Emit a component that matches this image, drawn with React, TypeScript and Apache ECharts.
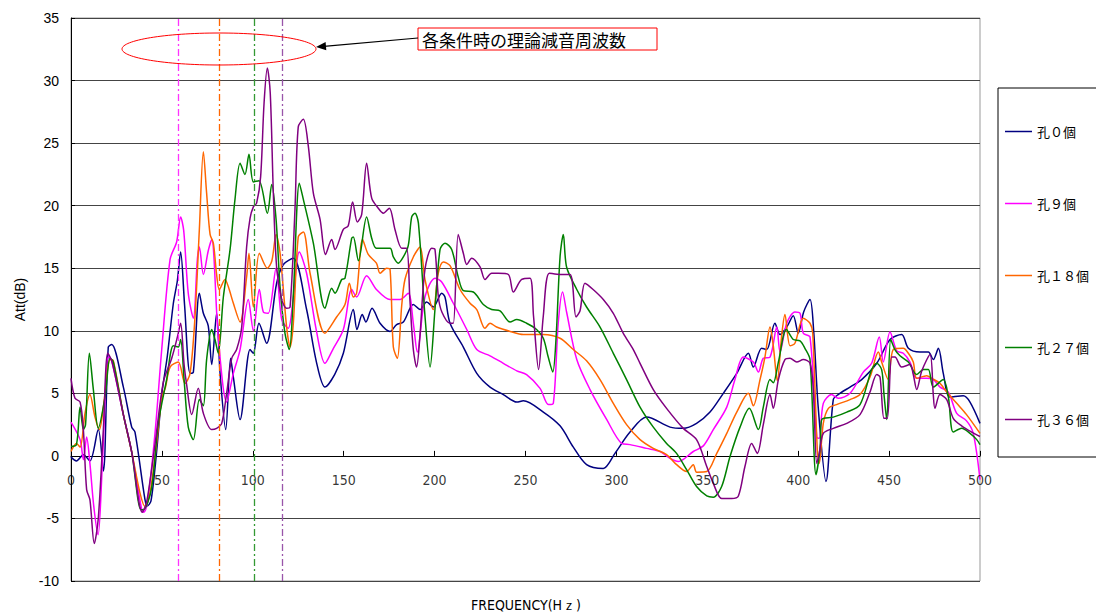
import React, { useEffect, useRef } from "react";
import * as echarts from "echarts";

// [frequency Hz, attenuation dB]
const hole0: number[][] = [[0,-0.1],[3,-0.4],[6.8,0.1],[10.4,-0.4],[15,2.1],[17.8,-1.2],[20.5,8.7],[22.4,8.9],[28.8,5.5],[33.4,2.3],[35.2,1.9],[40.7,-3.5],[42,-4.0],[44,-3.6],[47,0.2],[50,5],[53,8],[56.3,12.2],[58.5,14],[60.3,16.3],[62.5,12],[65.5,6.6],[67.3,6.7],[70.6,13.0],[72.8,11.4],[75.5,10.4],[77.4,7.3],[80.1,11.4],[82,6.6],[85.1,2.1],[87.8,7.8],[89.3,6.3],[93,2.9],[98.5,8.5],[100.3,8.2],[103.4,10.6],[107.6,9.0],[113.1,13.8],[116.8,15.3],[122.3,15.8],[129.6,11.7],[135,7.5],[139.7,5.5],[145,6.5],[149.8,8.2],[155.3,11.7],[157.3,10.1],[160.2,11.3],[162.2,10.7],[165.6,11.8],[170,10.6],[175.5,9.95],[179.1,10.5],[182.8,10.7],[188.3,12.1],[192,11.7],[195.6,12.3],[199.3,11.9],[203.9,13.0],[205.7,12.7],[208.5,10.6],[215.8,8.7],[223.2,6.6],[230.5,5.5],[237.8,4.9],[245.2,4.3],[248.8,4.4],[259.8,3.5],[269,2.4],[276.3,0.7],[283.6,-0.7],[292.8,-1.0],[299.2,0.2],[307.5,1.9],[316.6,3.1],[329.5,2.3],[336.8,2.2],[344.1,2.6],[351.5,3.5],[358.8,5.0],[366.2,6.6],[372.6,8.2],[375.3,7.1],[379.9,8.6],[382.7,8.5],[387.2,10.6],[390,9.7],[393.7,10.3],[397.3,11.2],[400,9.8],[403,11.5],[406.5,12.5],[408.5,10],[411,3.9],[415.3,-2.05],[419.3,4.5],[422,4.9],[428.5,5.5],[434.9,6.1],[443.2,7.4],[450.5,9.3],[456.9,9.7],[460.6,8.6],[467,8.3],[471.6,8.3],[474.3,7.7],[477.1,8.6],[479.8,6.6],[483.5,4.7],[490.8,4.8],[494.5,4.3],[500,2.6]];

const hole9: number[][] = [[0,2.7],[5,1.3],[6.8,-0.3],[8.6,1.5],[10.4,-0.6],[12.5,-4],[14.9,-6.3],[17.2,-0.8],[20.5,7.9],[22.4,7.6],[28.8,3.3],[33.4,0.3],[38.9,-4.3],[40,-4.5],[42,-3.8],[46.2,1.8],[49.9,8.5],[54.5,15.7],[58.1,17.1],[60.3,19.1],[62,18],[64.5,13.0],[67.3,11.0],[69.5,15.7],[70.6,16.7],[72.8,14.5],[75.5,16.4],[77.4,17.3],[81,9.5],[85.6,4.3],[89.3,6.6],[93,8.5],[97.5,12.5],[100.3,10.0],[103.6,13.3],[105.8,11.5],[108.5,11.4],[112.8,15.0],[115.9,10.9],[119.5,10.2],[122,12.3],[125.6,16.3],[129.6,14.6],[135,10],[139.7,7.4],[144,8.5],[149.8,10.1],[154.4,13.3],[157.1,12.7],[162.6,14.4],[168,13.3],[175.5,12.5],[181,12.5],[185.5,13.0],[188.3,10.6],[190.5,8.3],[194.7,12.7],[200.2,14.2],[203.9,13.9],[210.3,12.2],[217.7,10.1],[223.2,8.5],[230.5,8.0],[237.8,7.4],[245.2,6.8],[250.6,6.5],[258,5.4],[262.6,4.1],[265.3,4.2],[268,10.6],[270.4,13.1],[272.6,11.5],[278.2,7.7],[285.5,5.3],[294.7,2.9],[302.9,1.0],[307.5,0.9],[316.6,0.6],[324,0.35],[329.5,-0.2],[334.1,-0.45],[342.3,0.35],[347.8,0.8],[353.3,2.1],[360.7,3.9],[365.2,6.1],[369.8,7.9],[375.3,7.5],[378.1,6.7],[380.8,7.8],[384.5,7.9],[388.2,10.3],[390,8.3],[393.7,10.6],[398.2,11.5],[401,11.4],[402.8,9.8],[406.5,9.5],[410.2,1.5],[411.6,1.4],[413.8,4.2],[418.4,4.9],[422,4.6],[428.5,5.0],[435.8,6.7],[440.4,7.4],[444.6,9.5],[446.8,7.5],[450.5,9.9],[454.2,8.4],[457.8,8.2],[461.5,7.5],[465.2,6.2],[470.7,6.2],[474.3,6.1],[478,5.5],[482.6,5.1],[487.2,3.4],[492.6,2.8],[496.3,1.8],[500,-1.9]];

const hole18: number[][] = [[0,0.35],[3,1.0],[5,0.7],[7.7,3.4],[10.4,4.9],[13.2,3.1],[15.6,2.1],[17.8,3.9],[21.5,7.7],[23.3,7.6],[28.8,3.3],[33.4,0.3],[38,-3],[40.7,-4.05],[43.4,-3.0],[47.1,1.0],[49.9,4.6],[52,5.5],[54.5,7.1],[59,7.5],[62.7,5.8],[65.5,6.6],[68.2,11.1],[70.6,18.1],[72.8,24.3],[74.6,21.0],[76.5,17.7],[78.3,17.0],[80.1,14.5],[81.6,13.3],[84.7,14.1],[86.6,13.5],[89.3,12.2],[93,10.7],[96.6,14.3],[97.9,16.2],[100.3,11.9],[103.6,16.2],[108,15.0],[110.5,15.6],[112.8,17.7],[115,16.2],[118.6,10.3],[120.5,8.7],[122.3,10.6],[125,17.5],[127.8,17.9],[131.5,14.6],[139.7,9.8],[146.1,11.1],[150.7,12.1],[153.1,13.8],[155.3,12.7],[157.1,13.0],[160.4,17.3],[163.5,16.1],[168,15.4],[170,14.6],[173.6,15.0],[175.5,14.9],[177.3,8.7],[179.5,7.8],[181.9,12],[183.7,14.1],[188.3,15.9],[192,16.7],[194.7,14.1],[199.3,11.7],[202,14.6],[204.8,15.5],[208.5,15.2],[214,13.3],[219.5,12.2],[223.2,11.7],[227.7,10.2],[230.5,10.6],[234.1,10.3],[241.5,9.95],[248.8,9.7],[259.8,9.7],[269,9.4],[276.3,8.5],[283.6,7.6],[291,6.1],[298.3,4.2],[305.6,2.5],[313,1.3],[320.3,0.6],[327.6,0.1],[333.1,-0.7],[338.6,-1.25],[342.3,-0.7],[344.1,-1.3],[349.7,-1.25],[355.2,0.2],[360.7,1.8],[366.2,3.5],[372.6,5.0],[375.3,4.0],[379,6.1],[381.7,7.9],[384.5,10.3],[386.3,8.8],[388.5,6.0],[390.9,9.6],[392.7,11.3],[395.5,8.8],[398.2,9.0],[402.8,11.0],[406.5,10.6],[408,9.8],[410.5,0.5],[411.6,-0.6],[413.8,2.6],[416.6,3.8],[421.1,4.1],[428.5,4.5],[434,4.9],[439.5,6.3],[444.1,8.3],[445.9,7.5],[449.5,6.1],[452.3,8.5],[457.8,8.6],[460.6,8.2],[463.3,7.5],[465.2,6.2],[470.7,6.4],[473.4,6.2],[478,5.8],[481.7,5.1],[487.2,4.2],[492.6,3.3],[500,1.8]];

const hole27: number[][] = [[0,0.75],[3,0.9],[5,3.9],[6.8,2.1],[8,2.5],[10.1,8.2],[12.3,5.3],[15,2.2],[18.7,4.7],[21.5,7.8],[23.3,7.5],[28.8,3.3],[33.4,0.3],[38.5,-4.3],[39.8,-4.3],[44.3,-2.6],[48,2.6],[52.6,6.1],[56.3,8.8],[59,8.7],[60.3,9.3],[62.2,6.1],[64.5,2.3],[67.3,1.3],[70.6,4.5],[72.8,4.0],[74.6,7.7],[77.4,10.1],[79.2,9.3],[81,8.2],[83.8,12.7],[87.5,16.5],[90.2,20.5],[93,23.4],[95.7,22.5],[97.9,24.1],[100.3,21.9],[103.4,22.0],[108,19.4],[110.4,21.7],[112.8,18.9],[115,13.5],[117.7,9.8],[120.1,8.5],[122.3,12.9],[125.6,21.8],[127.8,20.5],[133.3,17.0],[139.7,11.8],[143.4,13.4],[145.2,13.0],[148.9,14.1],[150.7,14.2],[154.4,17.4],[155.3,17.5],[158.1,15.6],[162.6,19.1],[165.4,17.4],[168,16.6],[175.5,16.6],[177.3,15.9],[180,15.4],[182.8,15.9],[185.5,16.8],[187.4,19.1],[189.2,19.4],[191.1,18.6],[194.7,11.2],[197.5,7.1],[200.2,11.7],[203,16.5],[205.7,17.0],[209.4,16.5],[213,14.3],[215.8,13.2],[221.3,13.1],[226.8,12.1],[231.4,11.7],[236,11.6],[241.5,10.7],[245.2,10.9],[250.6,10.6],[256.1,10.1],[259.8,9.4],[262.5,7.9],[265,6.7],[266.8,9.4],[269,15.9],[270.8,17.7],[272.6,15.1],[278.2,13.3],[283.6,11.9],[291,10.3],[298.3,8.2],[305.6,6.1],[313,3.9],[320.3,2.3],[327.6,1.0],[333.1,0.2],[338.6,-1.1],[344.1,-2.45],[349.7,-3.2],[353.3,-3.3],[357.9,-2.45],[362.5,-0.05],[368,2.3],[373.1,3.8],[378.1,2.1],[380.8,3.9],[384.5,6.1],[386.3,5.85],[389.1,7.5],[393.5,10.1],[397.3,9.3],[401,9.2],[403.7,8.6],[406.5,7.7],[409.8,-1.5],[412,0.6],[412.9,2.9],[419.3,3.1],[426.7,3.5],[434,4.1],[440.4,6.9],[443.2,7.4],[445.9,6.9],[447.2,4.9],[448.7,2.9],[450.9,9.3],[453.2,8.5],[456,8.0],[460.6,7.5],[465.2,6.5],[468.9,6.9],[471.6,6.9],[474.3,5.5],[479.8,6.1],[482.6,4.7],[485.3,1.9],[489.9,2.2],[494.5,1.8],[498.2,1.3],[500,0.9]];

const hole36: number[][] = [[0,6.2],[2.2,4.6],[5,4.3],[6.8,2.1],[8.6,-2.7],[10.4,-3.5],[12.8,-7.0],[15,-5],[17.8,2.1],[20.2,8.2],[22.4,7.6],[28.8,3.3],[33.4,0.3],[39.2,-4.5],[41.6,-3.7],[46.2,0.9],[50.8,5.9],[55.4,7.8],[58.7,9.6],[60.3,10.6],[62.2,7.3],[63.6,5.7],[66.4,3.3],[70,5.4],[72.8,3.4],[77.4,2.1],[80.1,2.2],[82.9,2.6],[85.6,5.0],[88.4,7.8],[91.1,8.5],[93.9,10.3],[96.6,16.7],[98.5,19.0],[100.3,19.9],[102.1,20.2],[104.3,22.3],[106.2,28.2],[108,31.0],[109.6,29],[111.3,21.0],[113.1,15.1],[115.9,12.5],[118.6,11.8],[120.5,11.9],[123.2,19.7],[125,26.3],[127.8,26.9],[130.5,24.8],[133.3,21.0],[137,18.9],[140,16.1],[143.4,17.3],[145.2,16.5],[149.8,18.1],[152.5,18.4],[154.9,20.3],[157.5,18.7],[159.9,19.3],[162.6,23.4],[165.4,20.6],[169,19.8],[171.8,19.4],[175.1,19.8],[178.2,18.1],[181.9,16.6],[184.6,16.6],[186.4,12.5],[188.3,8.5],[190.1,7.1],[191.9,9.5],[194.7,14.9],[198.4,16.6],[200.2,16.5],[202,12.8],[204,11.5],[208.5,10.6],[210.3,10.6],[213,17.7],[215.8,16.2],[217.7,15.3],[220.4,15.8],[225,15.1],[227.7,14.1],[231.4,14.6],[235,14.6],[240.6,14.5],[243.3,13.1],[247.9,14.1],[252.5,14.2],[254.4,11.2],[257.2,6.9],[259.8,11.2],[263.1,14.6],[269,14.5],[274.5,14.5],[277.8,11.1],[280,11.6],[282.7,13.8],[287.2,13.3],[292.8,12.5],[298.3,11.4],[303.8,9.8],[309.3,8.5],[313,7.4],[320.3,5.3],[327.6,3.8],[336.8,2.2],[344.1,1.3],[349.7,-0.85],[353.3,-2.2],[357.9,-3.4],[363.4,-3.4],[367.1,-3.2],[370.7,-0.85],[374.4,1.0],[377.5,0.2],[380.8,2.5],[384.5,4.9],[386.3,3.8],[389.1,6.1],[392.7,7.7],[395.5,7.8],[399.2,7.5],[402.8,7.7],[406.5,7.4],[408.3,5.3],[410.2,-0.6],[411.6,0.2],[413.8,1.8],[419.3,2.2],[426.7,2.6],[434,3.3],[439.5,5.1],[443.2,6.5],[445,6.3],[447.2,3.0],[449,3.0],[451.4,7.9],[453.2,7.9],[456.9,7.1],[461.5,7.3],[463.3,6.5],[465.2,5.3],[468,6.8],[472.5,8.1],[474.3,4.9],[475.2,3.8],[478,4.9],[481.7,4.5],[485.3,3.0],[489.9,2.4],[495.4,1.9],[500,1.55]];

const seriesNames = ["孔０個", "孔９個", "孔１８個", "孔２７個", "孔３６個"];
const seriesData = [hole0, hole9, hole18, hole27, hole36];
const seriesColors = ["#000080", "#FF00FF", "#FF6600", "#008000", "#800080"];
// theoretical attenuation frequencies (Hz) per condition (孔９, 孔１８, 孔２７, 孔３６)
const theoryFreqs = [59, 81.5, 101, 116];
const theoryColors = ["#FF33FF", "#FF6600", "#339933", "#9955AA"];
// x tick labels, drawn along the 0 dB line
const xTicks = [0, 50, 100, 150, 200, 250, 300, 350, 400, 450, 500];
const annotationText = "各条件時の理論減音周波数";
const xAxisName = "FREQUENCY(Hｚ)";

const latin = "'Liberation Sans', Arial, sans-serif";
const narrow = "'Liberation Sans Narrow', 'DejaVu Sans Condensed', 'Liberation Sans', sans-serif";
const cjk = "'Noto Sans CJK JP', 'Noto Sans', sans-serif";

export default function App() {
  const ref = useRef<HTMLDivElement>(null);
  useEffect(() => {
    if (!ref.current) return;
    const chart = echarts.init(ref.current, undefined, { renderer: "svg" });
    const series: any[] = seriesNames.map((name, i) => ({
      name,
      type: "line",
      data: seriesData[i],
      symbol: "none",
      smooth: 0.3,
      lineStyle: { width: 1.5, color: seriesColors[i] },
      itemStyle: { color: seriesColors[i] },
      z: 3,
    }));
    series.push({
      name: "theory",
      type: "line",
      data: [],
      silent: true,
      markLine: {
        silent: true,
        symbol: "none",
        label: { show: false },
        data: theoryFreqs.map((f, i) => ({
          xAxis: f,
          lineStyle: { color: theoryColors[i], width: 1.3, type: [7, 3, 2, 3] },
        })),
      },
      z: 2,
    });
    series.push({
      name: "xticklabels",
      type: "scatter",
      silent: true,
      symbolSize: 0,
      data: xTicks.map((t) => [t, 0]),
      label: {
        show: true,
        position: "bottom",
        distance: 17,
        formatter: (p: any) => String(p.value[0]),
        fontSize: 14,
        color: "#000",
        fontFamily: narrow,
      },
      z: 4,
    });
    chart.setOption({
      animation: false,
      backgroundColor: "#fff",
      grid: {
        left: 71,
        right: 116,
        top: 18,
        bottom: 33,
        containLabel: false,
        outerBoundsMode: "none",
        show: true,
        borderColor: "#999",
        borderWidth: 1,
        backgroundColor: "transparent",
      },
      xAxis: {
        type: "value",
        min: 0,
        max: 500,
        interval: 50,
        axisLine: { onZero: true, lineStyle: { color: "#000", width: 1 } },
        axisTick: { inside: true, length: 5, lineStyle: { color: "#000" } },
        axisLabel: { show: false },
        splitLine: { show: false },
      },
      yAxis: {
        type: "value",
        min: -10,
        max: 35,
        interval: 5,
        name: "Att(dB)",
        nameLocation: "middle",
        nameGap: 44,
        nameRotate: 90,
        nameTextStyle: { fontSize: 14, color: "#000", fontFamily: latin },
        axisLine: { show: true, lineStyle: { color: "#000", width: 1 } },
        axisTick: { show: true, inside: true, length: 4, lineStyle: { color: "#000" } },
        axisLabel: { fontSize: 14, color: "#000", margin: 12, fontFamily: latin },
        splitLine: { show: true, lineStyle: { color: "#444", width: 1 } },
      },
      legend: {
        data: seriesNames,
        orient: "vertical",
        left: 998,
        top: 88,
        padding: [37, 40, 31, 7],
        itemWidth: 27,
        itemHeight: 14,
        itemGap: 59,
        icon: "path://M0 0 H27 V1.5 H0 Z",
        borderColor: "#000",
        borderWidth: 1,
        textStyle: { fontSize: 13, color: "#000", fontFamily: cjk },
      },
      graphic: [
        {
          type: "ellipse",
          shape: { cx: 219, cy: 49, rx: 97, ry: 16 },
          style: { fill: "none", stroke: "#FF0000", lineWidth: 1 },
          z: 10,
        },
        {
          type: "rect",
          shape: { x: 418, y: 28, width: 239, height: 22 },
          style: { fill: "#fff", stroke: "#FF0000", lineWidth: 1 },
          z: 10,
        },
        {
          type: "text",
          x: 422,
          y: 39,
          style: {
            text: annotationText,
            fontSize: 17,
            fill: "#000",
            fontFamily: cjk,
            verticalAlign: "middle",
            align: "left",
          },
          z: 11,
        },
        {
          type: "line",
          shape: { x1: 418, y1: 38, x2: 324, y2: 46.3 },
          style: { stroke: "#000", lineWidth: 1.2 },
          z: 10,
        },
        {
          type: "polygon",
          shape: { points: [[316, 47], [326.3, 50.3], [325.6, 42]] },
          style: { fill: "#000" },
          z: 10,
        },
        {
          type: "text",
          x: 526,
          y: 605,
          style: {
            text: xAxisName,
            fontSize: 14,
            fill: "#000",
            fontFamily: narrow,
            verticalAlign: "middle",
            align: "center",
          },
          z: 10,
        },
      ],
      series,
    });
    return () => chart.dispose();
  }, []);
  return <div ref={ref} style={{ width: 1096, height: 614, position: "absolute", left: 0, top: 0 }} />;
}
